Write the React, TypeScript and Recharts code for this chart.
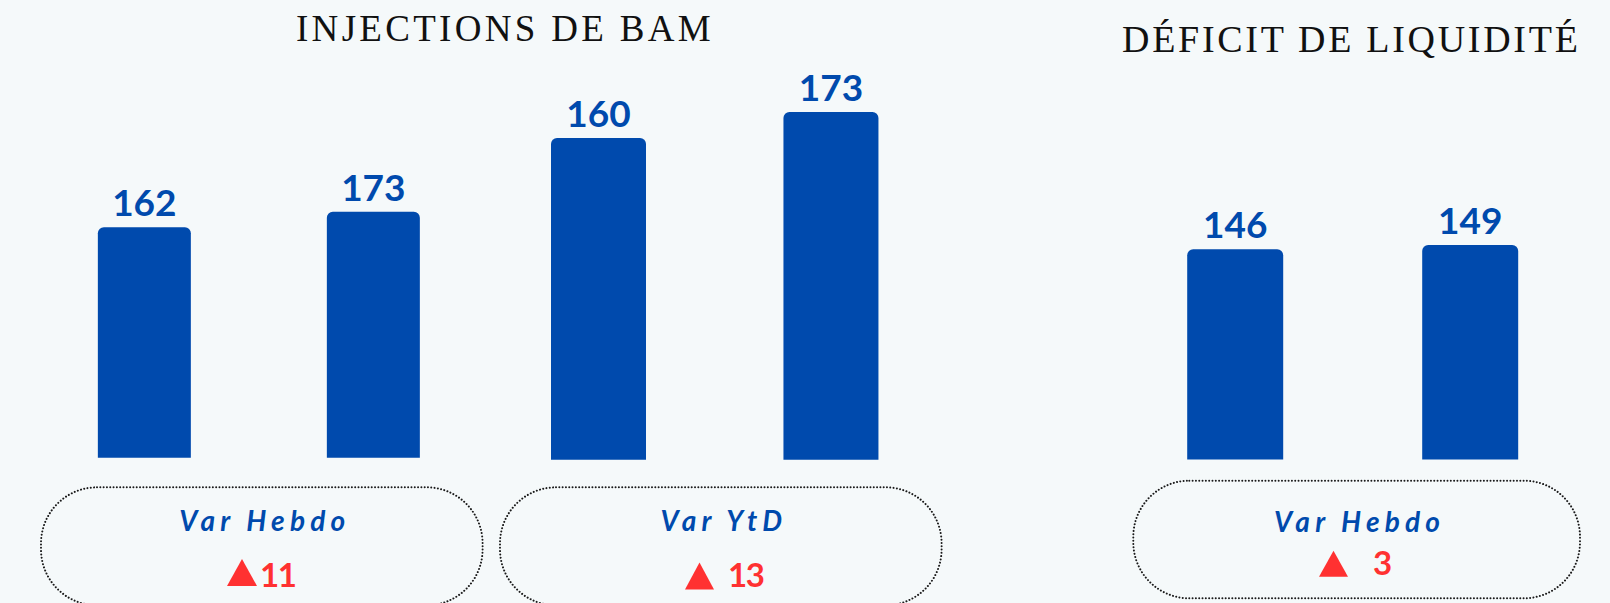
import React from 'react';
import { BarChart, Bar, XAxis, YAxis, LabelList } from 'recharts';

// Weeks compared (the axis is not shown in the infographic)
const periods: Array<string> = ['Semaine précédente', 'Semaine courante'];
const injHebdo: Array<number> = [162, 173];
const injYtd: Array<number> = [160, 173];
const deficitHebdo: Array<number> = [146, 149];

const titles: Array<string> = ['INJECTIONS DE BAM', 'DÉFICIT DE LIQUIDITÉ'];
const pillLabels: Array<string> = ['Var Hebdo', 'Var YtD', 'Var Hebdo'];
const pillVars: Array<string> = ['11', '13', '3'];

const BLUE = '#004AAD';
const RED = '#FF3131';
const BG = '#F5F9FA';

interface GroupProps {
    values: Array<number>;
    left: number;
    width: number;
    height: number;
    margin: { top: number; right: number; left: number; bottom: number };
    domainMax: number;
    barSize: number;
}

const Group = (props: GroupProps) => {
    const data = periods.map((p, i) => ({ name: p, value: props.values[i] }));
    return (
        <div style={{ position: 'absolute', left: props.left, top: 0 }}>
            <BarChart width={props.width} height={props.height} data={data} margin={props.margin}>
                <XAxis dataKey="name" hide />
                <YAxis hide domain={[0, props.domainMax]} />
                <Bar dataKey="value" fill={BLUE} barSize={props.barSize} radius={[6, 6, 0, 0]} isAnimationActive={false}>
                    <LabelList
                        dataKey="value"
                        position="top"
                        offset={11}
                        fill={BLUE}
                        fontSize={37}
                        fontWeight={700}
                        fontFamily="Lato"
                    />
                </Bar>
            </BarChart>
        </div>
    );
};

interface PillProps {
    x: number;
    y: number;
    w: number;
    h: number;
    label: string;
    labelY: number;
    variation: string;
    triX: number;
    triTop: number;
    triW: number;
    triH: number;
    numX: number;
    numY: number;
}

const Pill = (p: PillProps) => (
    <g>
        <rect
            x={p.x}
            y={p.y}
            width={p.w}
            height={p.h}
            rx={56}
            ry={56}
            fill="none"
            stroke="#1a1a1a"
            strokeWidth={2}
            strokeDasharray="0.01 3.3"
            strokeLinecap="round"
        />
        <text
            x={p.x + p.w / 2 + 3}
            y={p.labelY}
            textAnchor="middle"
            fill={BLUE}
            fontFamily="Lato"
            fontStyle="italic"
            fontWeight={700}
            fontSize={28}
            letterSpacing={5.2}
        >
            {p.label}
        </text>
        <polygon
            points={`${p.triX},${p.triTop + p.triH} ${p.triX + p.triW / 2},${p.triTop} ${p.triX + p.triW},${p.triTop + p.triH}`}
            fill={RED}
        />
        <text x={p.numX} y={p.numY} fill={RED} fontFamily="Lato" fontWeight={700} fontSize={33}
            letterSpacing={-1.5}>
            {p.variation}
        </text>
    </g>
);

const App = () => {
    return (
        <div style={{ position: 'absolute', left: 0, top: 0, width: 1610, height: 603, background: BG, overflow: 'hidden' }}>
            <Group
                values={injHebdo}
                left={0}
                width={520}
                height={460}
                margin={{ top: 31.1, right: 32.15, left: 29.85, bottom: 2.3 }}
                domainMax={300}
                barSize={93}
            />
            <Group
                values={injYtd}
                left={470}
                width={500}
                height={462}
                margin={{ top: 17.5, right: 23.1, left: 12, bottom: 2.3 }}
                domainMax={220}
                barSize={95}
            />
            <Group
                values={deficitHebdo}
                left={1100}
                width={510}
                height={462}
                margin={{ top: 27.6, right: 22.8, left: 17.2, bottom: 2.4 }}
                domainMax={300}
                barSize={96}
            />
            <svg width={1610} height={603} style={{ position: 'absolute', left: 0, top: 0, pointerEvents: 'none' }}>
                <text x={296} y={40.7} fill="#111" fontFamily="Liberation Serif" fontSize={37} letterSpacing={3.3}>
                    {titles[0]}
                </text>
                <text x={1122} y={51.7} fill="#111" fontFamily="Liberation Serif" fontSize={38} letterSpacing={2.7}>
                    {titles[1]}
                </text>
                <Pill x={41} y={487.3} w={441.6} h={118} label={pillLabels[0]} labelY={531}
                    variation={pillVars[0]} triX={227} triTop={559} triW={30} triH={27} numX={260} numY={586.7} />
                <Pill x={500} y={487.3} w={441.6} h={118} label={pillLabels[1]} labelY={531}
                    variation={pillVars[1]} triX={685} triTop={562.5} triW={29} triH={27} numX={728} numY={587.3} />
                <Pill x={1133.3} y={480.7} w={446.7} h={117.6} label={pillLabels[2]} labelY={532.3}
                    variation={pillVars[2]} triX={1319} triTop={550.7} triW={29} triH={26} numX={1373} numY={575} />
            </svg>
        </div>
    );
};

export default App;
